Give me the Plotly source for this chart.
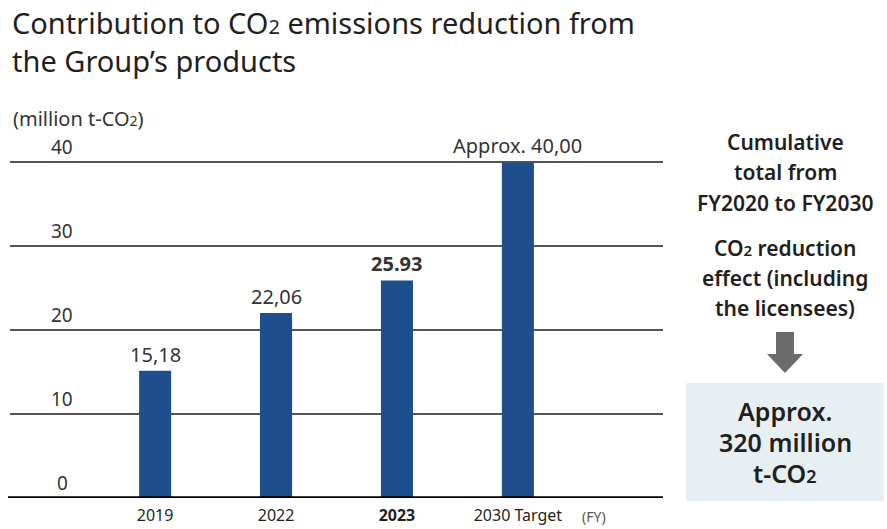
import plotly.graph_objects as go

categories = ["2019", "2022", "2023", "2030 Target"]
values = [15.18, 22.06, 25.93, 40.00]
value_labels = ["15,18", "22,06", "<b>25.93</b>", "Approx. 40,00"]
tick_text = ["2019", "2022", "<b>2023</b>", "2030 Target"]
y_ticks = [0, 10, 20, 30, 40]

W, H = 887, 529
YMAX = 41
L, R, T, B = 10, 224, 154, 31
PW, PH = W - L - R, H - T - B
FONT = "Noto Sans, Open Sans, sans-serif"
TXT = "#231f20"

def px(xp):
    return (xp - L) / PW

def py(yp):
    return (H - B - yp) / PH

def sub2(size):
    return f"<span style='font-size:{size}px'>2</span>"

xpos = list(range(len(categories)))

fig = go.Figure()
fig.add_trace(go.Bar(
    x=xpos, y=values, width=0.265,
    marker=dict(color="#1f4e8f", line=dict(width=0)),
    hoverinfo="skip",
))

annotations = []
# bar value labels
for xv, v, lab in zip(xpos, values, value_labels):
    annotations.append(dict(
        x=xv, xref="x", y=v, yref="y", text=lab, showarrow=False,
        xanchor="center", yanchor="bottom", yshift=1,
        font=dict(size=20, color="#333333", family=FONT)))

# y tick labels above grid lines
for v in y_ticks:
    annotations.append(dict(
        x=px(62), xref="paper", y=v, yref="y", text=str(v),
        showarrow=False, xanchor="center", yanchor="bottom", yshift=0,
        font=dict(size=19, color="#333333", family=FONT)))

annotations.append(dict(
    x=px(11), xref="paper", y=py(118), yref="paper",
    text="(million t-CO" + sub2(14) + ")", showarrow=False,
    xanchor="left", yanchor="middle",
    font=dict(size=20, color="#333333", family=FONT)))

annotations.append(dict(
    x=px(594), xref="paper", y=py(516), yref="paper",
    text="(FY)", showarrow=False, xanchor="center", yanchor="middle",
    font=dict(size=14, color="#555555", family=FONT)))

# Title
annotations.append(dict(
    x=px(10), xref="paper", y=py(41), yref="paper",
    text="Contribution to CO" + sub2(20) + " emissions reduction from<br>the Group\u2019s products",
    showarrow=False, xanchor="left", yanchor="middle", align="left",
    font=dict(size=29, color=TXT, family=FONT)))

# Right panel
right_lines = [("Cumulative", 142), ("total from", 172), ("FY2020 to FY2030", 203),
               ("CO" + sub2(15) + " reduction", 248), ("effect (including", 278),
               ("the licensees)", 308)]
for t, yy in right_lines:
    annotations.append(dict(
        x=px(785), xref="paper", y=py(yy), yref="paper", text=t,
        showarrow=False, xanchor="center", yanchor="middle",
        font=dict(size=21, color=TXT, family=FONT, weight=600)))

box_lines = [("Approx.", 411), ("320 million", 442), ("t-CO" + sub2(18), 473)]
for t, yy in box_lines:
    annotations.append(dict(
        x=px(785), xref="paper", y=py(yy), yref="paper", text=t,
        showarrow=False, xanchor="center", yanchor="middle",
        font=dict(size=25, color=TXT, family=FONT, weight=600)))

shapes = [
    dict(type="rect", xref="paper", yref="paper",
         x0=px(686), x1=px(884), y0=py(501), y1=py(383),
         fillcolor="#e8eff3", line=dict(width=0), layer="below"),
    dict(type="path", xref="paper", yref="paper",
         path=(f"M {px(776)} {py(332)} L {px(794)} {py(332)} L {px(794)} {py(354)} "
               f"L {px(803)} {py(354)} L {px(785)} {py(373)} L {px(767)} {py(354)} "
               f"L {px(776)} {py(354)} Z"),
         fillcolor="#6b6b6b", line=dict(width=0)),
    dict(type="line", xref="paper", yref="y", x0=px(8), x1=1.0, y0=0, y1=0,
         line=dict(color="#000000", width=3.5)),
]

fig.update_layout(
    width=W, height=H,
    margin=dict(l=L, r=R, t=T, b=B, pad=0, autoexpand=False),
    paper_bgcolor="white", plot_bgcolor="white",
    showlegend=False,
    font=dict(family=FONT, color=TXT),
    xaxis=dict(range=[-1.2, 4.2], tickvals=xpos, ticktext=tick_text,
               tickfont=dict(size=16, color=TXT, family=FONT),
               ticklabelstandoff=6, automargin=False,
               showgrid=False, zeroline=False, showline=False, ticks="",
               fixedrange=True),
    yaxis=dict(range=[0, YMAX], tickvals=y_ticks[1:], showticklabels=False,
               automargin=False,
               showgrid=True, gridcolor="#555555", gridwidth=1.5,
               zeroline=False, showline=False, ticks="", fixedrange=True),
    annotations=annotations,
    shapes=shapes,
)

fig.write_html("out.html", config={"displayModeBar": False},
               post_script="document.body.style.margin='0';")
